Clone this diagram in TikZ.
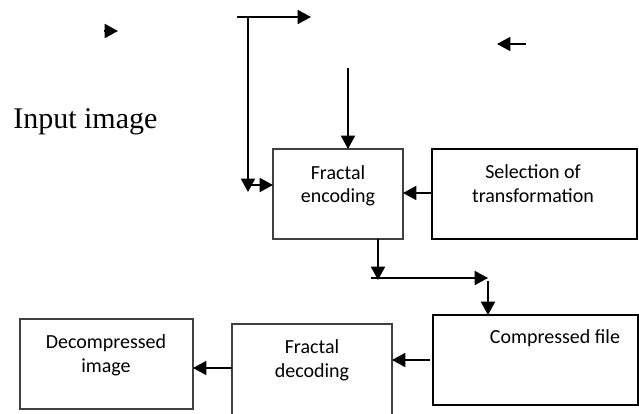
\documentclass[tikz,border=0pt]{standalone}
\usepackage{fontspec}
\setmainfont{Carlito}
\newfontfamily\captionserif{Liberation Serif}
\usetikzlibrary{arrows.meta}
\begin{document}
\begin{tikzpicture}[x=0.75pt,y=-0.75pt,
  box/.style={draw=black!75, line width=0.8pt, inner sep=0pt, outer sep=0pt,
              anchor=north west},
  boldbox/.style={box, draw=black, line width=1.8pt},
  conn/.style={line width=1.3pt, -{Triangle[length=10pt,width=10.5pt]}},
  lbl/.style={anchor=base, inner sep=0pt, font=\fontsize{15}{18}\selectfont}]
\useasboundingbox (0,0) rectangle (639,414);

% blocks
\node[box, minimum width=97.5pt, minimum height=67.5pt] (enc) at (273,149) {};
\node[boldbox, minimum width=153.75pt, minimum height=67.5pt] (sel) at (432,149) {};
\node[box, draw=black, line width=1pt, minimum width=153.75pt, minimum height=67.5pt] (comp) at (433,315) {};
\node[box, minimum width=120pt, minimum height=75pt] (dec) at (232,324) {};
\node[box, minimum width=129.75pt, minimum height=67.5pt] (dmp) at (20,319) {};

% block texts
\node[lbl] (enc1) at (338,179) {Fractal};
\node[lbl] (enc2) at (338,202) {encoding};
\node[lbl] (sel1) at (533,178) {Selection of};
\node[lbl] (sel2) at (533,202) {transformation};
\node[lbl] (comp1) at (555,343) {Compressed file};
\node[lbl] (dec1) at (312,353) {Fractal};
\node[lbl] (dec2) at (312,377) {decoding};
\node[lbl] (dmp1) at (106,348) {Decompressed};
\node[lbl] (dmp2) at (106,372) {image};
\node[anchor=base west, inner sep=0pt, font=\captionserif\fontsize{22.5}{26}\selectfont]
  (inp) at (13,128) {Input image};

% loose arrow heads
\coordinate (h1a) at (104,31);
\coordinate (h1b) at (118,31);
\draw[conn] (h1a) -- (h1b);
\coordinate (h2a) at (526,44);
\coordinate (h2b) at (497,44);
\draw[conn] (h2a) -- (h2b);

% feed into the encoder
\coordinate (t1) at (237,17);
\coordinate (t2) at (311,17);
\coordinate (t3) at (248,17);
\coordinate (t4) at (248,192);
\draw[conn] (t1) -- (t2);
\draw[conn] (t3) -- (t4);
\coordinate (t5) at (251,185);
\draw[conn] (t5) -- (t5 -| enc.west);
\coordinate (t6) at (348,68);
\draw[conn] (t6) -- (t6 |- enc.north);
\coordinate (s1) at (0,193);
\draw[conn] (s1 -| sel.west) -- (s1 -| enc.east);

% encoder to compressed file
\coordinate (e1) at (378,280);
\draw[conn] (e1 |- enc.south) -- (e1);
\coordinate (e2) at (371,278);
\coordinate (e3) at (488,278);
\draw[conn] (e2) -- (e3);
\coordinate (c1) at (488,281);
\draw[conn] (c1) -- (c1 |- comp.north);

% decoding chain
\coordinate (c2) at (430,360);
\draw[conn] (c2) -- (c2 -| dec.east);
\coordinate (d1) at (0,368);
\draw[conn] (d1 -| dec.west) -- (d1 -| dmp.east);
\end{tikzpicture}
\end{document}
